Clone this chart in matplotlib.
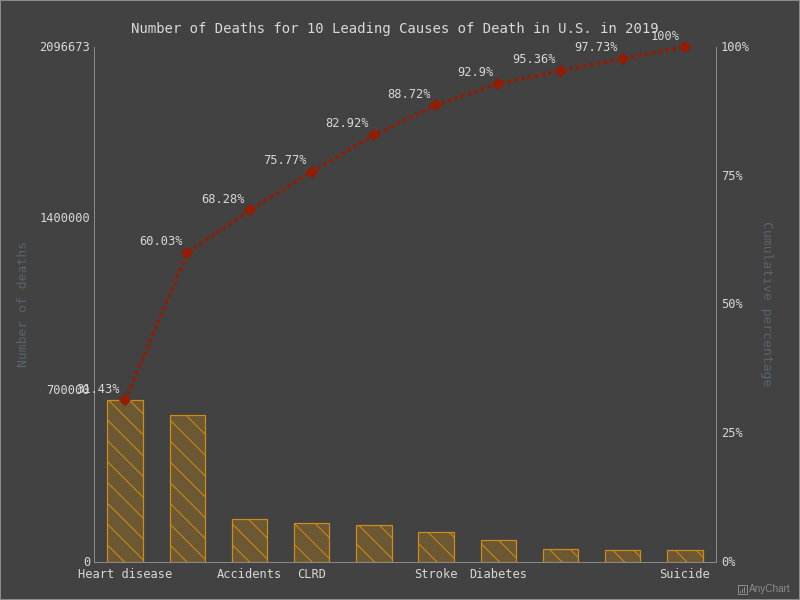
import matplotlib
matplotlib.use('Agg')
import matplotlib.pyplot as plt
from matplotlib.patches import Rectangle
from matplotlib.transforms import ScaledTranslation

causes = ['Heart disease', '', 'Accidents', 'CLRD', '', 'Stroke', 'Diabetes', '', '', 'Suicide']
deaths = [659041, 599601, 173040, 156979, 150005, 121499, 87647, 51565, 49860, 47511]
cumul = [31.43, 60.03, 68.28, 75.77, 82.92, 88.72, 92.9, 95.36, 97.73, 100]
left_ticks = [0, 700000, 1400000, 2096673]
right_ticks = [0, 25, 50, 75, 100]

BG = '#424242'
TXT = '#d8d8d8'
AXC = '#8a8a8a'
DIM = '#58636d'
ORANGE = '#d08c14'
FILL = '#6c5934'
RED = '#951c00'

# 125 dpi so that the hatch spacing comes out close to the reference
DPI = 125
px = 72 / DPI
W, H = 800, 600

plt.rcParams['font.family'] = 'DejaVu Sans Mono'
plt.rcParams['hatch.linewidth'] = 1 * px

fig = plt.figure(figsize=(W / DPI, H / DPI), dpi=DPI, facecolor=BG, edgecolor='#8c8c8c', linewidth=2 * px)
ax = fig.add_axes([94 / W, 1 - 562 / H, (716 - 94) / W, (562 - 47) / H], facecolor=BG)

x = list(range(len(causes)))
ax.bar(x, deaths, width=0.57, color=FILL, edgecolor=ORANGE, linewidth=1.2 * px, hatch='\\\\')
ax.set_xlim(-0.5, 9.5)
ax.set_ylim(0, 2096673)
ax.set_xticks(x, causes)
ax.set_yticks(left_ticks, [str(v) for v in left_ticks])
ax.tick_params(axis='x', length=0, pad=5.5 * px, labelsize=12 * px, colors=TXT)
ax.tick_params(axis='y', length=0, pad=4 * px, labelsize=12 * px, colors=TXT)
ax.spines['top'].set_visible(False)
for s in ['left', 'right', 'bottom']:
    ax.spines[s].set_color(AXC)
    ax.spines[s].set_linewidth(1 * px)

ax2 = ax.twinx()
ax2.set_ylim(0, 100)
ax2.set_yticks(right_ticks, [f'{v}%' for v in right_ticks])
ax2.tick_params(axis='y', length=0, pad=5 * px, labelsize=12 * px, colors=TXT)
for s in ax2.spines.values():
    s.set_visible(False)

# y tick labels sit one pixel higher in the reference
up = ScaledTranslation(0, 1 / DPI, fig.dpi_scale_trans)
for t in ax.get_yticklabels() + ax2.get_yticklabels():
    t.set_transform(t.get_transform() + up)

ax2.plot(x, cumul, color=RED, linewidth=3.5 * px, linestyle=(0, (1, 1)), marker='D',
         markersize=6.5 * px, clip_on=False)

for xi, c in zip(x, cumul):
    ax2.annotate(f'{c}%', (xi, c), xytext=(-5, 11), textcoords='offset pixels',
                 ha='right', va='center', fontsize=12 * px, color=TXT, annotation_clip=False)

fig.text(395 / W, 1 - 29 / H, 'Number of Deaths for 10 Leading Causes of Death in U.S. in 2019',
         ha='center', va='center', fontsize=14 * px, color=TXT)
fig.text(24 / W, 1 - 304 / H, 'Number of deaths', rotation=90, ha='center', va='center',
         fontsize=13 * px, color=DIM)
fig.text(767 / W, 1 - 304 / H, 'Cumulative percentage', rotation=-90, ha='center', va='center',
         fontsize=13 * px, color=DIM)

# AnyChart credit
fig.text(749 / W, 1 - 589 / H, 'AnyChart', ha='left', va='center', fontsize=10 * px,
         color='#8c8c8c', family='Liberation Sans')
fig.add_artist(Rectangle((737.5 / W, 1 - 594 / H), 9 / W, 9 / H, transform=fig.transFigure,
                         facecolor='none', edgecolor='#8c8c8c', linewidth=1 * px))
for bx, bh in [(739.5, 2), (741.5, 4), (743.5, 6)]:
    fig.add_artist(Rectangle((bx / W, 1 - 593 / H), 1.2 / W, bh / H, transform=fig.transFigure,
                             facecolor='#8c8c8c', edgecolor='none'))

fig.savefig('out.png', dpi=DPI)
plt.close()
